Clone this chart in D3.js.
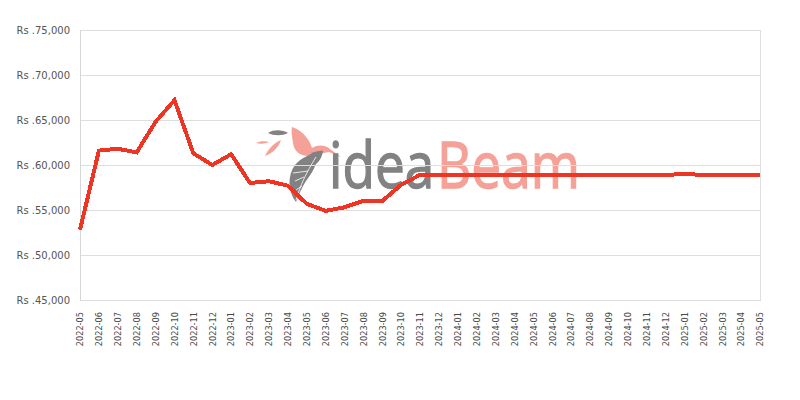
<!DOCTYPE html>
<html>
<head>
<meta charset="utf-8">
<script src="https://cdn.jsdelivr.net/npm/d3@7"></script>
<style>
  html, body { margin: 0; padding: 0; background: #fff; }
  svg { display: block; }
</style>
</head>
<body>
<div id="chart"></div>
<script>
const months = ["2022-05","2022-06","2022-07","2022-08","2022-09","2022-10","2022-11","2022-12",
  "2023-01","2023-02","2023-03","2023-04","2023-05","2023-06","2023-07","2023-08","2023-09","2023-10","2023-11","2023-12",
  "2024-01","2024-02","2024-03","2024-04","2024-05","2024-06","2024-07","2024-08","2024-09","2024-10","2024-11","2024-12",
  "2025-01","2025-02","2025-03","2025-04","2025-05"];
const prices = [52800,61600,61800,61400,64800,67200,61300,60000,
  61200,58000,58200,57700,55700,54900,55300,56000,56000,57800,58900,58900,
  58900,58900,58900,58900,58900,58900,58900,58900,58900,58900,58900,58900,
  59000,58900,58900,58900,58900];
const yTicks = [45000,50000,55000,60000,65000,70000,75000];

const W = 800, H = 400;
const margin = {top: 30, right: 40, bottom: 100, left: 80};
const svg = d3.select("#chart").append("svg").attr("width", W).attr("height", H);

const x = d3.scalePoint().domain(months).range([margin.left, W - margin.right]);
const y = d3.scaleLinear().domain([45000, 75000]).range([H - margin.bottom, margin.top]);

// watermark logo
const logo = svg.append("g").attr("transform", `translate(${(margin.left + W - margin.right)/2 - 160},${y(60000) - 35})`);
const salmon = "#f5a197", grey = "#828282";
// small leaves
logo.append("path").attr("fill", grey)
  .attr("d", "M8,3 C14,-1 23,0 28,3 C22,6 14,6 8,3 Z");
logo.append("path").attr("fill", salmon)
  .attr("d", "M-4,13 C0,11 5,11 9,12 C5,14 0,14 -4,13 Z");
logo.append("path").attr("fill", salmon)
  .attr("d", "M5,26 C8,19 14,13 21,10 C19,17 13,23 5,26 Z");
// hummingbird
logo.append("path").attr("fill", salmon)
  .attr("d", "M32,-3 C44,1 50,11 52,18 C58,14 66,15 70,19 L81,27 L69,22 C62,23 56,25 48,26 C40,26 34,21 33,13 C32,7 31,1 32,-3 Z");
// feather
logo.append("path").attr("fill", grey)
  .attr("d", "M36,72 C28,62 27,46 35,35 C41,28 50,24 58,22 C58,34 52,43 46,51 C42,57 39,64 36,72 Z");
logo.append("path").attr("fill", grey)
  .attr("d", "M47,27 C52,22 58,20 63,21 C62,29 57,35 50,37 C45,34 44,30 47,27 Z");
logo.append("path").attr("fill", "none").attr("stroke", "#fff").attr("stroke-width", 0.8)
  .attr("d", "M36,70 C40,56 46,43 56,27 M35,51 L44,47 M33,43 L48,41 M36,60 L42,56");
const brandWords = [{t: "idea", c: grey, x: 69}, {t: "Beam", c: salmon, x: 177}];
brandWords.forEach(w => {
  logo.append("text")
    .attr("transform", `translate(${w.x},58) scale(0.83,1)`)
    .attr("font-family", "Open Sans").attr("font-size", 64)
    .attr("fill", w.c).attr("stroke", w.c).attr("stroke-width", 1.4)
    .text(w.t);
});

// gridlines
svg.append("g").selectAll("line").data(yTicks).join("line")
  .attr("x1", margin.left).attr("x2", W - margin.right)
  .attr("y1", d => Math.round(y(d)) + 0.5).attr("y2", d => Math.round(y(d)) + 0.5)
  .attr("stroke", "#dedede").attr("stroke-width", 1);
// frame left & right
svg.append("line").attr("x1", margin.left + 0.5).attr("x2", margin.left + 0.5)
  .attr("y1", margin.top).attr("y2", H - margin.bottom + 1).attr("stroke", "#d6d6d6");
svg.append("line").attr("x1", W - margin.right + 0.5).attr("x2", W - margin.right + 0.5)
  .attr("y1", margin.top).attr("y2", H - margin.bottom + 1).attr("stroke", "#dedede");

// y axis labels
const yAxis = d3.axisLeft(y).tickValues(yTicks).tickSize(0).tickPadding(10)
  .tickFormat(d => "Rs ." + d3.format(",")(d));
const gy = svg.append("g").attr("transform", `translate(${margin.left},0)`).call(yAxis);
gy.select(".domain").remove();
gy.selectAll("text").attr("font-family", "DejaVu Sans").attr("font-size", 10).attr("fill", "#555");

// x axis labels
const xAxis = d3.axisBottom(x).tickSize(0).tickPadding(0);
const gx = svg.append("g").attr("transform", `translate(0,${H - margin.bottom})`).call(xAxis);
gx.select(".domain").remove();
gx.selectAll("text")
  .attr("font-family", "DejaVu Sans").attr("font-size", 8.2).attr("fill", "#4a4a4a")
  .attr("text-anchor", "end")
  .attr("transform", "rotate(-90)")
  .attr("x", -12).attr("y", 0).attr("dy", "0.35em");

// price line
const line = d3.line().x((d, i) => x(months[i])).y(d => y(d));
svg.append("path").datum(prices)
  .attr("d", line)
  .attr("fill", "none")
  .attr("stroke", "#ee3524")
  .attr("stroke-width", 4)
  .attr("stroke-linejoin", "miter")
  .attr("shape-rendering", "crispEdges");
</script>
</body>
</html>
